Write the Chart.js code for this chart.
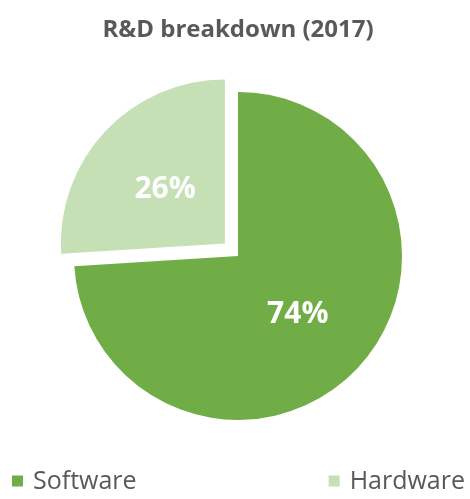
<!DOCTYPE html>
<html>
<head>
<meta charset="utf-8">
<script src="https://cdn.jsdelivr.net/npm/chart.js@4/dist/chart.umd.min.js"></script>
<style>
  html, body { margin:0; padding:0; background:#fff; }
  #wrap { width:470px; height:499px; }
</style>
</head>
<body>
<div id="wrap"><canvas id="c" width="470" height="499"></canvas></div>
<script>
// Data
const labels = ['Software', 'Hardware'];
const shares = [74, 26];
const colors = ['#70AD47', '#C5E0B4'];
const explode = [0, 18]; // px the slice is pulled out
const titleText = 'R&D breakdown (2017)';

const FONT = "'Open Sans', sans-serif";
const GREY = '#595959';

// white % labels in the middle of each slice
const sliceLabels = {
  id: 'sliceLabels',
  afterDatasetsDraw(chart){
    const ctx = chart.ctx;
    const meta = chart.getDatasetMeta(0);
    ctx.save();
    ctx.fillStyle = '#fff';
    ctx.font = `bold 30px ${FONT}`;
    ctx.textAlign = 'center';
    ctx.textBaseline = 'middle';
    meta.data.forEach((arc, i) => {
      const {x, y, startAngle, endAngle, outerRadius} = arc.getProps(['x','y','startAngle','endAngle','outerRadius'], true);
      const mid = (startAngle + endAngle) / 2;
      const r = outerRadius / 2 + (explode[i] || 0);
      ctx.fillText(`${shares[i]}%`, x + Math.cos(mid)*r, y + Math.sin(mid)*r + 2);
    });
    ctx.restore();
  }
};

// legend spread to both edges, like the original
const edgeLegend = {
  id: 'edgeLegend',
  afterDraw(chart){
    const ctx = chart.ctx;
    const y = 482, box = 11, gap = 10;
    ctx.save();
    ctx.font = `25px ${FONT}`;
    ctx.textBaseline = 'middle';
    const w1 = ctx.measureText(labels[1]).width;
    const xs = [12, chart.width - 5 - w1 - gap - box];
    labels.forEach((lab, i) => {
      ctx.fillStyle = colors[i];
      ctx.fillRect(xs[i], y - box/2 - 1, box, box);
      ctx.fillStyle = GREY;
      ctx.fillText(lab, xs[i] + box + gap, y);
    });
    ctx.restore();
  }
};

new Chart(document.getElementById('c'), {
  type: 'pie',
  data: {
    labels,
    datasets: [{
      data: shares,
      backgroundColor: colors,
      borderWidth: 0,
      offset: explode.map(v => v * 4), // chart.js v4 draws offset/4
      hoverOffset: 0
    }]
  },
  options: {
    responsive: false,
    animation: false,
    radius: 164,
    layout: { padding: { left: 6, right: 0, top: 0, bottom: 61 } },
    plugins: {
      legend: { display: false },
      tooltip: { enabled: false },
      title: {
        display: true,
        text: titleText,
        color: GREY,
        font: { family: FONT, size: 24, weight: 'bold' },
        padding: { top: 16, bottom: 29 }
      }
    }
  },
  plugins: [sliceLabels, edgeLegend]
});
</script>
</body>
</html>
